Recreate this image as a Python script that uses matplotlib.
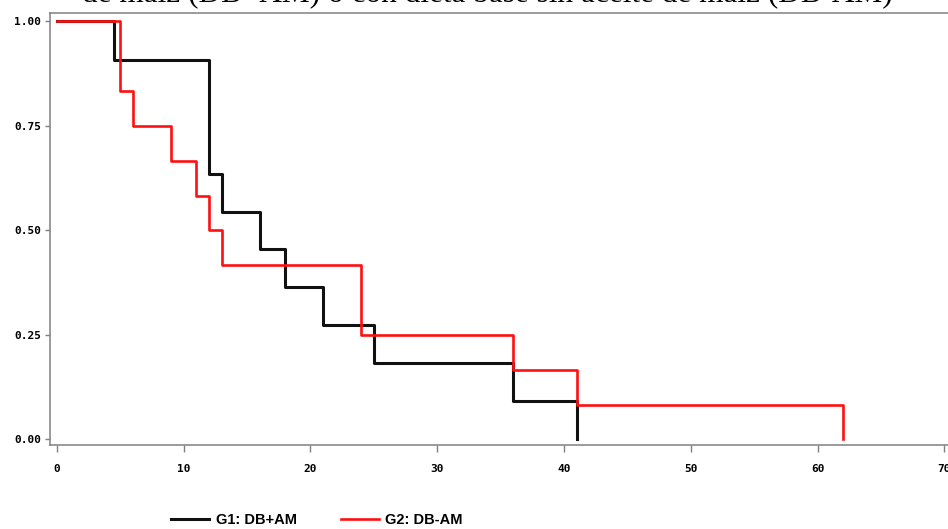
import matplotlib
matplotlib.use("Agg")
import matplotlib.pyplot as plt
from matplotlib.lines import Line2D
from matplotlib.font_manager import FontProperties

# Kaplan-Meier steps
g1_time = [0, 4.5, 12, 13, 16, 18, 21, 25, 36, 41]
g1_surv = [1.0, 0.909, 0.636, 0.545, 0.455, 0.364, 0.273, 0.182, 0.091, 0.0]
g2_time = [0, 5, 6, 9, 11, 12, 13, 24, 36, 41, 62]
g2_surv = [1.0, 0.833, 0.75, 0.667, 0.583, 0.5, 0.417, 0.25, 0.167, 0.083, 0.0]

labels = ["G1: DB+AM", "G2: DB-AM"]
x_ticks = [0, 10, 20, 30, 40, 50, 60, 70]
y_ticks = [0.0, 0.25, 0.5, 0.75, 1.0]
title = "de maíz (DB+AM) o con dieta base sin aceite de maíz (DB-AM)"

axis_grey = '#808080'
red = '#ff1010'

fig = plt.figure(figsize=(9.48, 5.29), dpi=100)
ax = fig.add_axes([50/948, 84/529, 1 - 50/948, 432/529])

ax.step(g1_time, g1_surv, where='post', color='#111111', lw=2.2)
ax.step(g2_time, g2_surv, where='post', color=red, lw=1.9)

ax.set_xlim(-0.53, 70.29)
ax.set_ylim(-0.0132, 1.0203)

ax.set_xticks(x_ticks)
ax.set_xticklabels([str(t) for t in x_ticks])
ax.set_yticks(y_ticks)
ax.set_yticklabels(["%.2f" % v for v in y_ticks])

tick_font = FontProperties(family='DejaVu Sans Mono', weight='bold', size=8)
for lab in ax.get_xticklabels() + ax.get_yticklabels():
    lab.set_fontproperties(tick_font)

ax.tick_params(axis='x', length=5, width=1, color=axis_grey, pad=9)
ax.tick_params(axis='y', length=3.5, width=1, color=axis_grey, pad=3)

for side in ['left', 'bottom', 'top']:
    ax.spines[side].set_color(axis_grey)
    ax.spines[side].set_linewidth(1.1)
ax.spines['right'].set_visible(False)

# title is cut off at the top of the image, as in the source
fig.text(0.514, 1 - 2/529, title, ha='center', va='baseline',
         family='Liberation Serif', fontsize=22.5)

handles = [Line2D([], [], color='#111111', lw=2.2),
           Line2D([], [], color=red, lw=1.9)]
fig.legend(handles, labels, ncol=2, loc='center', bbox_to_anchor=(317/948, 1 - 520/529),
           frameon=False, handlelength=2.6, handletextpad=0.45, columnspacing=3.0,
           prop=dict(family='Liberation Sans', weight='bold', size=10.5))

fig.savefig('out.png', dpi=100)
